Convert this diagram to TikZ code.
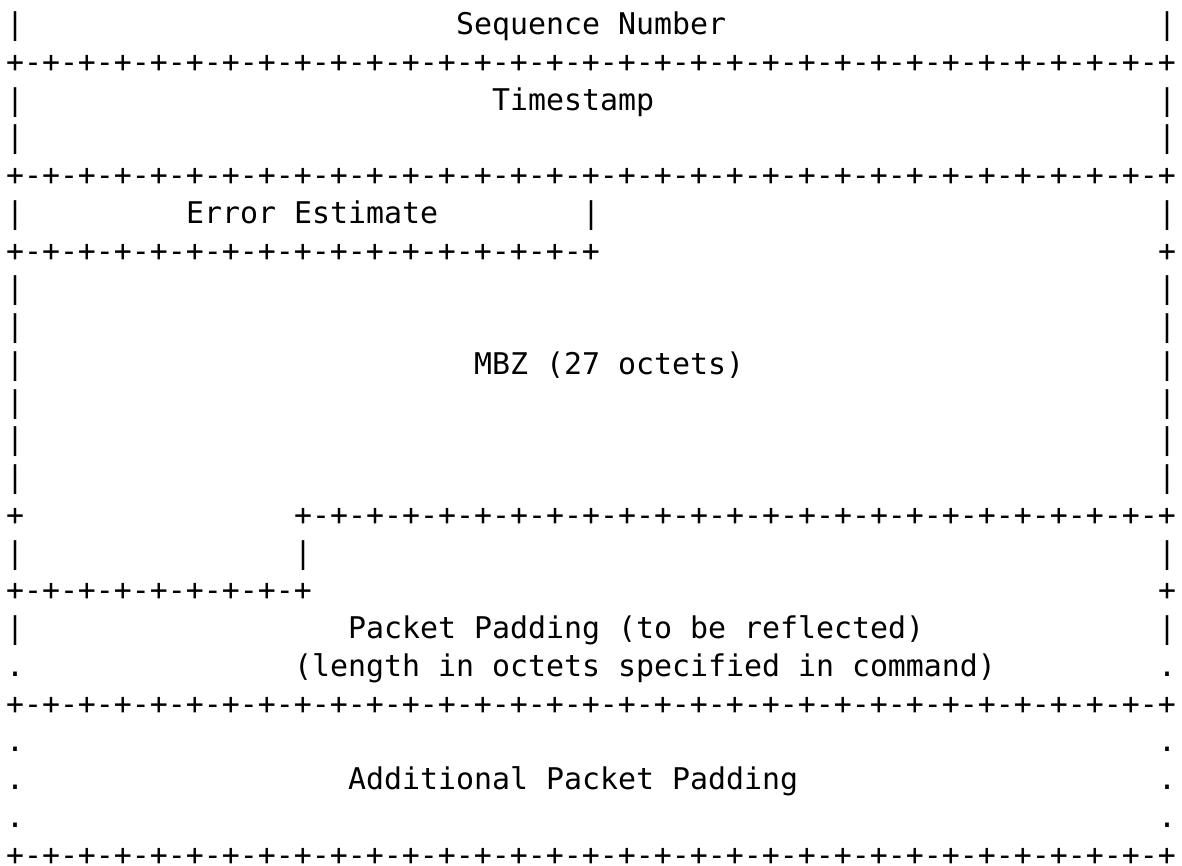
\documentclass[tikz,border=0pt]{standalone}
\usepackage{fontspec}
\newfontfamily\asciimono{DejaVu Sans Mono}
\tikzset{
  chars/.style={inner sep=0pt, outer sep=0pt, anchor=mid west, font=\asciimono\fontsize{29.9}{36}\selectfont, text=black},
  rulechars/.style={chars, text depth=0pt},
}
% column c, row r -> left edge of cell c, centre of row r
\newcommand\cellat[4]{\node[chars] (#1) at ({(6+18*#2)*1pt},{-(32.5+37.75*#3)*1pt}) {#4};}
\newcommand\ruleat[4]{\node[rulechars] (#1) at ({(6+18*#2)*1pt},{-(32.5+37.75*#3)*1pt}) {#4};}
\newcommand\fullrulestr{+-+-+-+-+-+-+-+-+-+-+-+-+-+-+-+-+-+-+-+-+-+-+-+-+-+-+-+-+-+-+-+-+}
\begin{document}
\begin{tikzpicture}
\useasboundingbox (0,0) rectangle (1182pt,-865pt);
% row 0
\cellat{l0}{0}{0}{|}
\cellat{seq}{25}{0}{Sequence Number}
\cellat{r0}{64}{0}{|}
% row 1
\ruleat{rule1}{0}{1}{\fullrulestr}
% rows 2-3
\cellat{l2}{0}{2}{|}
\cellat{ts}{27}{2}{Timestamp}
\cellat{r2}{64}{2}{|}
\cellat{l3}{0}{3}{|}
\cellat{r3}{64}{3}{|}
% row 4
\ruleat{rule4}{0}{4}{\fullrulestr}
% row 5
\cellat{l5}{0}{5}{|}
\cellat{err}{10}{5}{Error Estimate}
\cellat{m5}{32}{5}{|}
\cellat{r5}{64}{5}{|}
% row 6
\ruleat{rule6}{0}{6}{+-+-+-+-+-+-+-+-+-+-+-+-+-+-+-+-+}
\ruleat{r6}{64}{6}{+}
% rows 7-12
\cellat{l7}{0}{7}{|}
\cellat{r7}{64}{7}{|}
\cellat{l8}{0}{8}{|}
\cellat{r8}{64}{8}{|}
\cellat{l9}{0}{9}{|}
\cellat{mbz}{26}{9}{MBZ (27 octets)}
\cellat{r9}{64}{9}{|}
\cellat{l10}{0}{10}{|}
\cellat{r10}{64}{10}{|}
\cellat{l11}{0}{11}{|}
\cellat{r11}{64}{11}{|}
\cellat{l12}{0}{12}{|}
\cellat{r12}{64}{12}{|}
% row 13
\ruleat{l13}{0}{13}{+}
\ruleat{rule13}{16}{13}{+-+-+-+-+-+-+-+-+-+-+-+-+-+-+-+-+-+-+-+-+-+-+-+-+}
% row 14
\cellat{l14}{0}{14}{|}
\cellat{m14}{16}{14}{|}
\cellat{r14}{64}{14}{|}
% row 15
\ruleat{rule15}{0}{15}{+-+-+-+-+-+-+-+-+}
\ruleat{r15}{64}{15}{+}
% rows 16-17
\cellat{l16}{0}{16}{|}
\cellat{pp}{19}{16}{Packet Padding (to be reflected)}
\cellat{r16}{64}{16}{|}
\cellat{l17}{0}{17}{.}
\cellat{len}{16}{17}{(length in octets specified in command)}
\cellat{r17}{64}{17}{.}
% row 18
\ruleat{rule18}{0}{18}{\fullrulestr}
% rows 19-21
\cellat{l19}{0}{19}{.}
\cellat{r19}{64}{19}{.}
\cellat{l20}{0}{20}{.}
\cellat{app}{19}{20}{Additional Packet Padding}
\cellat{r20}{64}{20}{.}
\cellat{l21}{0}{21}{.}
\cellat{r21}{64}{21}{.}
% row 22
\ruleat{rule22}{0}{22}{\fullrulestr}
\end{tikzpicture}
\end{document}
